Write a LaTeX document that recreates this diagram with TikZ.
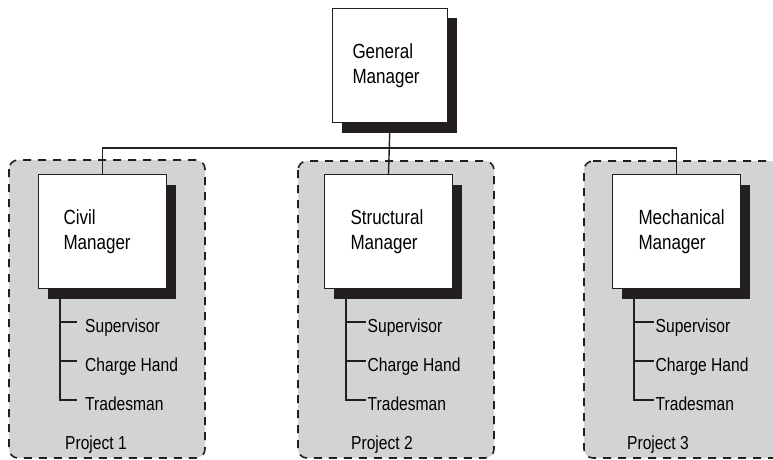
\documentclass[tikz,border=0pt]{standalone}
\usepackage{fontspec}
\setmainfont{Liberation Sans}[FakeStretch=0.83]
\usetikzlibrary{shadows}
\definecolor{panelgray}{RGB}{209,211,213}
\definecolor{shadowblack}{RGB}{35,31,32}
\tikzset{
	panel/.style={fill=panelgray,draw=shadowblack,line width=1.6pt,dash pattern=on 8pt off 7pt,rounded corners=9pt},
	manager/.style={draw=shadowblack,line width=1pt,fill=white,anchor=north west,align=left,
		minimum height=114pt,inner ysep=0pt,font=\fontsize{20.5}{25}\selectfont,
		drop shadow={shadow xshift=9pt,shadow yshift=-10pt,opacity=1,fill=shadowblack}},
	link/.style={draw=shadowblack,line width=1.4pt},
	role/.style={anchor=west,text height=20pt,text depth=0pt,inner ysep=0pt,inner xsep=1.5pt,font=\fontsize{18.8}{22}\selectfont},
	project/.style={anchor=base west,inner sep=0pt,font=\fontsize{18.8}{22}\selectfont}
}
\begin{document}
\begin{tikzpicture}[x=1pt,y=-1pt]
	\useasboundingbox (0,0) rectangle (773,460);
	\clip (0,0) rectangle (773,460);
	\fill[white] (0,0) rectangle (773,460);
	\draw[panel] (9,160) rectangle (205,458);
	\draw[panel] (298,161) rectangle (494,458);
	\draw[panel] (584,161) -- (900,161) -- (900,458) -- (584,458) -- cycle;
	\coordinate (bar) at (0,148);
	\node[manager,text width=75pt,inner xsep=20pt] (gm) at (332,8) {General\\Manager};
	\node[manager,text width=78pt,inner xsep=25pt] (civil) at (38,174) {Civil\\Manager};
	\node[manager,text width=76pt,inner xsep=26pt] (structural) at (324,174) {Structural\\Manager};
	\node[manager,text width=76pt,inner xsep=26pt] (mech) at (612,174) {Mechanical\\Manager};
	\draw[link] (civil.north) |- (mech.north |- bar) -- (mech.north);
	\draw[link] (gm.south) -- (structural.north);
	\coordinate (civbase) at ([xshift=22pt]civil.south west);
	\coordinate (strbase) at ([xshift=22pt]structural.south west);
	\coordinate (mechbase) at ([xshift=22pt]mech.south west);
	\node[role,inner xsep=8pt] (civsup) at (77,322) {Supervisor};
	\node[role,inner xsep=8pt] (civch) at (77,361) {Charge Hand};
	\node[role,inner xsep=8pt] (civtr) at (77,400) {Tradesman};
	\node[role] (strsup) at (366,322) {Supervisor};
	\node[role] (strch) at (366,361) {Charge Hand};
	\node[role] (strtr) at (366,400) {Tradesman};
	\node[role] (mechsup) at (654,322) {Supervisor};
	\node[role] (mechch) at (654,361) {Charge Hand};
	\node[role] (mechtr) at (654,400) {Tradesman};
	\draw[link] (civbase) |- (civtr.west);
	\draw[link] (civbase |- civsup.west) -- (civsup.west);
	\draw[link] (civbase |- civch.west) -- (civch.west);
	\draw[link] (strbase) |- (strtr.west);
	\draw[link] (strbase |- strsup.west) -- (strsup.west);
	\draw[link] (strbase |- strch.west) -- (strch.west);
	\draw[link] (mechbase) |- (mechtr.west);
	\draw[link] (mechbase |- mechsup.west) -- (mechsup.west);
	\draw[link] (mechbase |- mechch.west) -- (mechch.west);
	\node[project] (proj1) at (65,449) {Project 1};
	\node[project] (proj2) at (351,449) {Project 2};
	\node[project] (proj3) at (627,449) {Project 3};
\end{tikzpicture}
\end{document}
